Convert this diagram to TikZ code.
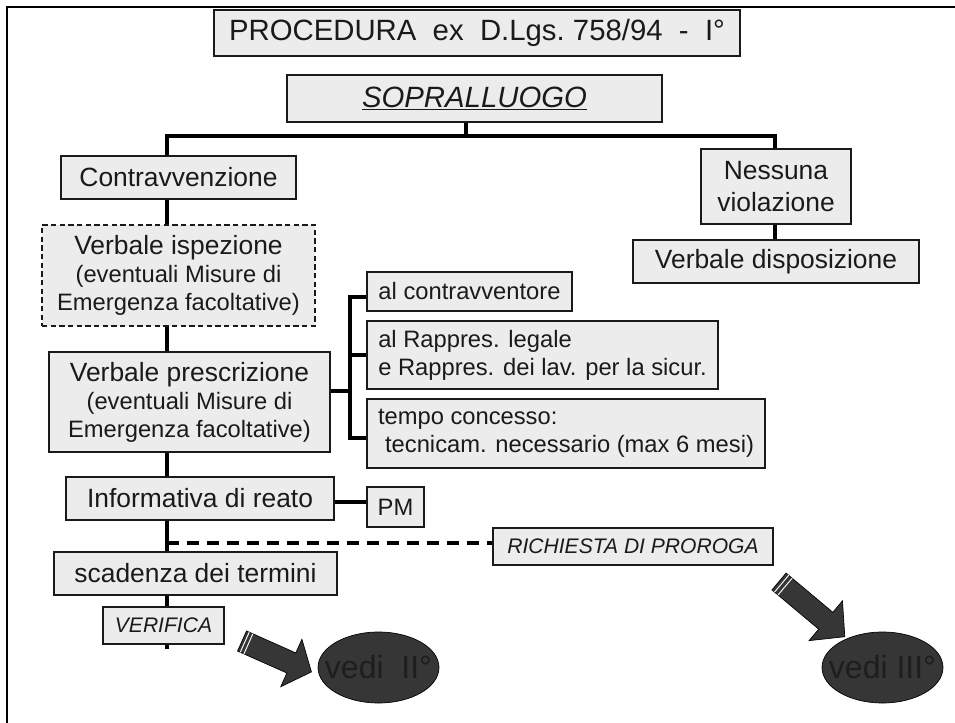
\documentclass[tikz,border=0pt]{standalone}
\usepackage{fontspec}
\setmainfont{Liberation Sans}
\usepackage{tikz}
\usepackage{xcolor}
\usetikzlibrary{positioning,calc,shapes.geometric}
\definecolor{cInk}{HTML}{1A1A1A}
\definecolor{cBox}{HTML}{ECECEC}
\definecolor{cBlob}{HTML}{363636}
\definecolor{cBlobTxt}{HTML}{1E1E1E}
\newcommand{\fbig}{\fontsize{22}{26}\selectfont}
\newcommand{\fmain}{\fontsize{19.8}{21}\selectfont}
\newcommand{\fsub}{\fontsize{17.8}{21}\selectfont}
\newcommand{\fital}{\fontsize{15.8}{19}\selectfont\itshape}
\newcommand{\fblob}{\fontsize{24}{28}\selectfont}
\tikzset{
  wh/.style 2 args={minimum width=#1*0.75pt,minimum height=#2*0.75pt},
  box/.style   ={draw=cInk,fill=cBox,line width=1pt,text=cInk,
                 inner sep=0pt,align=center,font=\fmain},
  tbox/.style  ={box,font=\fbig},
  sbox/.style  ={box,font=\fsub,align=left},
  ibox/.style  ={box,font=\fital},
  dbox/.style  ={box,line width=0.8pt,dash pattern=on 4pt off 2.5pt},
  link/.style  ={line width=2.4pt,black},
  plink/.style ={link,dash pattern=on 9pt off 6pt},
  blob/.style  ={ellipse,fill=cBlob,draw=black,line width=0.5pt,inner sep=0pt},
  blobtxt/.style={text=cBlobTxt,font=\fblob,inner sep=0pt},
  stripearrow/.pic={
    \filldraw[fill=cBlob,draw=black,line width=0.5pt]
      (0,-11) -- (54,-11) -- (54,-26) -- (76,0) -- (54,26) -- (54,11) -- (0,11) -- cycle;
    \draw[white,line width=0.7pt] (3,-11) -- (3,11) (7,-11) -- (7,11);
  },
}

\begin{document}
\begin{tikzpicture}[x=0.75pt,y=-0.75pt]
\useasboundingbox (0,0) rectangle (955,723);
% slide frame
\draw[line width=1.8pt,black] (7,723) -- (7,7) -- (955,7);

% heading
\node[tbox,wh={526}{46}] (title) at (477,33) {PROCEDURA\ \ ex\ \ D.Lgs.\ 758/94\ \ -\ \ I°};
\node[tbox,wh={375}{47}] (sop) at (474.5,98.5) {\underline{\textit{SOPRALLUOGO}}};

% left column
\node[box,wh={235}{43}] (contr) at (178.5,177.5) {Contravvenzione};
\node[dbox,wh={273}{101}] (isp) at (178.5,275.5)
  {Verbale ispezione\\{\fsub(eventuali Misure di}\\{\fsub Emergenza facoltative)}};
\node[box,wh={281}{100}] (presc) at (189.5,402)
  {Verbale prescrizione\\{\fsub(eventuali Misure di}\\{\fsub Emergenza facoltative)}};
\node[box,wh={268}{43}] (inf) at (200,498.5) {Informativa di reato};
\node[box,wh={283}{43}] (scad) at (195.5,573.5) {scadenza dei termini};
\node[ibox,wh={121}{37}] (verif) at (163.5,625.5) {VERIFICA};

% right column
\node[box,wh={150}{75}] (ness) at (776,186.5) {Nessuna\\[2.5pt]violazione};
\node[box,wh={286}{43}] (disp) at (776,261.5) {Verbale disposizione};

% prescrizione details
\node[sbox,wh={205}{39}] (a1) at (469.5,291.5) {al contravventore};
\node[sbox,wh={351}{68}] (a2) at (542.5,355) {al Rappres. legale\\e Rappres. dei lav. per la sicur.};
\node[sbox,wh={398}{69}] (a3) at (566,433.5) {tempo concesso:\\\hspace*{0.3em}tecnicam. necessario (max 6 mesi)};
\node[sbox,wh={57}{40}] (pm) at (395.5,507) {PM};
\node[ibox,wh={280}{37}] (rich) at (633,546.5) {RICHIESTA DI PROROGA};

% tree lines
\coordinate (jt) at (466,136);
\coordinate (jl) at (167,136);
\coordinate (jr) at (775,136);
\draw[link] (sop.south -| jt) -- (jt);
\draw[link] (jl |- contr.north) -- (jl) -- (jr) -- (jr |- ness.north);
\draw[link] (ness.south -| jr) -- (disp.north -| jr);
\foreach \a/\b in {contr/isp,isp/presc,presc/inf,inf/scad,scad/verif}
  \draw[link] (\a.south -| jl) -- (\b.north -| jl);
\coordinate (vend) at (167,649);
\draw[link] (verif.south -| jl) -- (vend);

% bracket to the details
\coordinate (bx) at (350,391);
\coordinate (b1) at (350,297);
\coordinate (b3) at (350,438);
\draw[link] (presc.east |- bx) -- (bx);
\draw[link] (a1.west |- b1) -- (b1) -- (b3) -- (a3.west |- b3);
\draw[link] (b1 |- a2.west) -- (a2.west);
\draw[link] ([yshift=-2.6pt]inf.east) -- ([yshift=-2.6pt]inf.east -| pm.west);

% proroga
\coordinate (jd) at (167,543);
\draw[plink] (jd) -- (rich.west |- jd);

% to the next parts
\pic[rotate=-24] (arrA) at (242,641) {stripearrow};
\pic[rotate=-40,xscale=1.13] (arrB) at (779,581.5) {stripearrow};
\node[blob,wh={121}{71}] (v2) at (378.5,667.5) {};
\node[blobtxt] (t2) at (v2) {vedi\ \ II°};
\node[blob,wh={121}{71}] (v3) at (882.5,667.5) {};
\node[blobtxt] (t3) at (v3) {vedi III°};
\end{tikzpicture}
\end{document}
